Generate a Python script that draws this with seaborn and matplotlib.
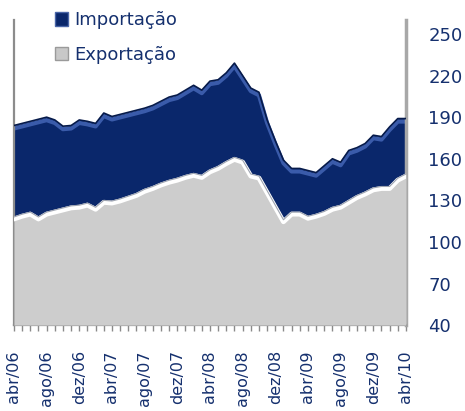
import pandas as pd
import matplotlib
matplotlib.use("Agg")
import matplotlib.pyplot as plt
import matplotlib.transforms as mtransforms
from matplotlib.patches import Patch
import seaborn as sns

# monthly values, abr/06 .. abr/10
meses = ['abr/06', 'mai/06', 'jun/06', 'jul/06', 'ago/06', 'set/06', 'out/06', 'nov/06',
         'dez/06', 'jan/07', 'fev/07', 'mar/07', 'abr/07', 'mai/07', 'jun/07', 'jul/07',
         'ago/07', 'set/07', 'out/07', 'nov/07', 'dez/07', 'jan/08', 'fev/08', 'mar/08',
         'abr/08', 'mai/08', 'jun/08', 'jul/08', 'ago/08', 'set/08', 'out/08', 'nov/08',
         'dez/08', 'jan/09', 'fev/09', 'mar/09', 'abr/09', 'mai/09', 'jun/09', 'jul/09',
         'ago/09', 'set/09', 'out/09', 'nov/09', 'dez/09', 'jan/10', 'fev/10', 'mar/10',
         'abr/10']

importacao = [184, 185.5, 187, 188.5, 190, 188, 183.5, 184, 188, 187, 185.5, 193, 190.5,
              192, 193.5, 195, 196.5, 198.5, 201.5, 204.5, 206, 209.5, 213, 209.5, 216,
              217, 222, 229, 220, 211, 208, 188, 173, 159, 153, 153, 151.5, 150, 155,
              160, 157.5, 166, 168, 171, 177, 176, 183, 189, 189]

exportacao = [118, 120, 121.5, 118, 121.5, 123, 124.5, 126, 126.5, 128, 125, 130, 129.5,
              131, 133, 135, 138, 140, 142.5, 144.5, 146, 148, 149.5, 148, 152, 154.5,
              158, 161, 159, 149, 147.5, 137, 126.5, 116, 121.5, 121.5, 118.5, 120, 122,
              125, 126.5, 130, 133.5, 136, 139, 140, 140, 146, 149]

df = pd.DataFrame({'mes': range(len(meses)), 'Importação': importacao,
                   'Exportação': exportacao})

navy = '#0A276B'
rim = '#3A5BAA'
cinza = '#CDCDCD'
txt = '#15306E'
base = 40

sns.set_style("white")
fig = plt.figure(figsize=(4.65, 4.11), dpi=100)
ax = fig.add_axes([0.030, 0.209, 0.843, 0.742])

# importacao (back)
ax.fill_between(df['mes'], base, df['Importação'], color=navy, lw=0, zorder=1)
down = mtransforms.offset_copy(ax.transData, fig=fig, x=0, y=-3, units='dots')
sns.lineplot(x=df['mes'], y=df['Importação'], ax=ax, color=rim, lw=3,
             transform=down, zorder=2)
sns.lineplot(x=df['mes'], y=df['Importação'], ax=ax, color='#061A4A', lw=1.2, zorder=3)

# exportacao (front)
ax.fill_between(df['mes'], base, df['Exportação'], color=cinza, lw=0, zorder=4)
down2 = mtransforms.offset_copy(ax.transData, fig=fig, x=0, y=-2, units='dots')
sns.lineplot(x=df['mes'], y=df['Exportação'], ax=ax, color='white', lw=3.5,
             transform=down2, zorder=5)
sns.lineplot(x=df['mes'], y=df['Exportação'], ax=ax, color='#9DA3B0', lw=0.8, zorder=6)

ax.set_xlim(0, len(meses) - 1)
ax.set_ylim(40, 260)
ax.set_xlabel('')
ax.set_ylabel('')

ax.set_xticks(range(0, len(meses), 4))
ax.set_xticklabels(meses[::4], rotation=90, color=txt, fontsize=11.5)
ax.set_xticks(range(len(meses)), minor=True)
ax.tick_params(axis='x', which='both', bottom=True, length=4, width=1,
               color='#8A8A8A', direction='out', pad=14)

ax.yaxis.tick_right()
ax.set_yticks([40, 70, 100, 130, 160, 190, 220, 250])
ax.tick_params(axis='y', length=0, pad=16, labelsize=13, labelcolor=txt)
for lab in ax.get_yticklabels():
    lab.set_horizontalalignment('left')

ax.spines['top'].set_visible(False)
for s in ['left', 'bottom', 'right']:
    ax.spines[s].set_color('#8C8C8C')
    ax.spines[s].set_linewidth(1.6)
ax.spines['right'].set_linewidth(2.5)
ax.spines['right'].set_color('#A8A8A8')

handles = [Patch(facecolor=navy, edgecolor='#4A66A8', label='Importação'),
           Patch(facecolor='#C8C8C8', edgecolor='#9A9A9A', label='Exportação')]
leg = fig.legend(handles=handles, loc='upper left', bbox_to_anchor=(0.083, 1.012),
                 frameon=False, fontsize=13, handlelength=0.75, handleheight=0.75,
                 handletextpad=0.3, labelspacing=0.9, labelcolor=txt)

fig.savefig('out.png', dpi=100)
